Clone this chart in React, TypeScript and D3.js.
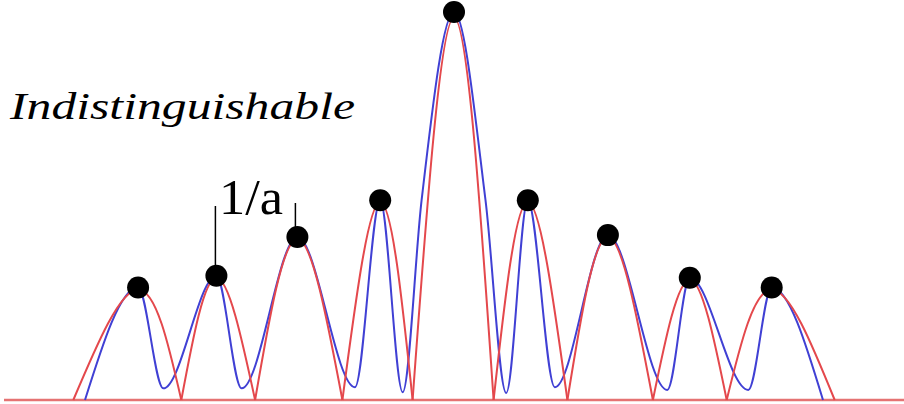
import React from 'react';
import * as d3 from 'd3';

// positions in arbitrary units (0 = central peak), intensity normalised to the central peak
const peakPos = [-35.1, -26.4, -17.4, -8.2, 0, 8.2, 17.1, 26.2, 35.3];
const peakVal = [0.29, 0.32, 0.42, 0.515, 1.0, 0.515, 0.425, 0.315, 0.29];

// red curve: zeros between the arcs, one arc per peak
const redZeros = [-42.3, -30.3, -22.1, -12.4, -4.6, 4.4, 12.6, 22.1, 30.3, 42.3];
const redPeakVal = [0.285, 0.315, 0.415, 0.51, 0.985, 0.51, 0.42, 0.31, 0.285];

// blue curve: maxima, minima and a few flank readings
const bluePos = [-41.0, -35.1, -32.3, -26.4, -23.6, -17.4, -11.0, -8.2, -5.7, -3.6, 0, 3.5, 5.8, 8.2, 11.2, 17.1, 23.7, 26.2, 32.7, 35.3, 41.0];
const blueVal = [0, 0.29, 0.03, 0.32, 0.03, 0.42, 0.033, 0.515, 0.02, 0.515, 1.0, 0.515, 0.018, 0.515, 0.033, 0.425, 0.026, 0.315, 0.026, 0.29, 0];

const W = 904;
const H = 404;
const serif = '"Liberation Serif", "Times New Roman", Times, serif';

const App: React.FC = () => {
  const x = d3.scaleLinear().domain([-50, 50]).range([4, 904]);
  const y = d3.scaleLinear().domain([0, 1]).range([400, 12]);

  const redLine = d3
    .line<[number, number]>()
    .x((d) => x(d[0]))
    .y((d) => y(d[1]))
    .curve(d3.curveNatural);

  const blueLine = d3
    .line<[number, number]>()
    .x((d) => x(d[0]))
    .y((d) => y(d[1]))
    .curve(d3.curveMonotoneX);

  const redArcs = peakPos.map((p, i) => [
    [redZeros[i], 0],
    [p, redPeakVal[i]],
    [redZeros[i + 1], 0],
  ] as [number, number][]);

  const bluePts = bluePos.map((p, i) => [p, blueVal[i]] as [number, number]);

  return (
    <svg
      width={W}
      height={H}
      style={{ position: 'absolute', left: 0, top: 0, background: '#fff' }}
    >
      {/* baseline */}
      <line x1={4} x2={W} y1={y(0)} y2={y(0)} stroke="#e57373" strokeWidth={2.5} />

      <path d={blueLine(bluePts) || ''} fill="none" stroke="#4040d4" strokeWidth={2} />

      {redArcs.map((arc, i) => (
        <path key={i} d={redLine(arc) || ''} fill="none" stroke="#e4484c" strokeWidth={2} />
      ))}

      {/* 1/a bracket */}
      <line x1={x(peakPos[1]) - 1} x2={x(peakPos[1]) - 1} y1={206} y2={y(peakVal[1])} stroke="#000" strokeWidth={1.5} />
      <line x1={x(peakPos[2]) - 2} x2={x(peakPos[2]) - 2} y1={203} y2={y(peakVal[2])} stroke="#000" strokeWidth={1.5} />

      {peakPos.map((p, i) => (
        <circle key={i} cx={x(p)} cy={y(peakVal[i])} r={11} fill="#000" />
      ))}

      <text
        x={10}
        y={119}
        style={{ fontFamily: serif, fontStyle: 'italic', fontSize: 37 }}
        textLength={345}
        lengthAdjust="spacingAndGlyphs"
        fill="#000"
      >
        Indistinguishable
      </text>
      <text
        x={219}
        y={214}
        style={{ fontFamily: serif, fontSize: 50 }}
        textLength={64}
        lengthAdjust="spacingAndGlyphs"
        fill="#000"
      >
        1/a
      </text>
    </svg>
  );
};

export default App;
